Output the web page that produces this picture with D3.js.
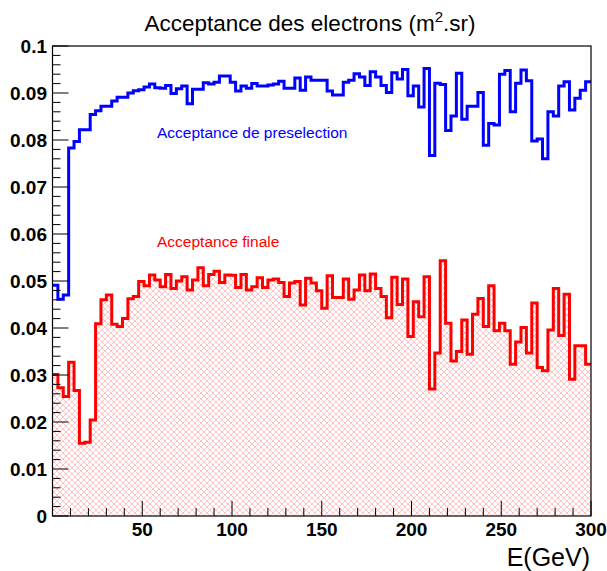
<!DOCTYPE html>
<html>
<head>
<meta charset="utf-8">
<script src="https://cdn.jsdelivr.net/npm/d3@7"></script>
<style>
  html, body { margin: 0; padding: 0; background: #fff; }
  svg { display: block; font-family: "Liberation Sans", Arial, sans-serif; }
</style>
</head>
<body>
<svg id="chart" width="607" height="571"></svg>
<script>
// Acceptance des electrons — 100 bins de 3 GeV entre 0 et 300
const binWidth = 3;
const binEdges = d3.range(0, 300, binWidth);

const preselection = [
  0.0491, 0.0461, 0.0470, 0.0783, 0.0797, 0.0822, 0.0822, 0.0854, 0.0862, 0.0872,
  0.0872, 0.0883, 0.0891, 0.0891, 0.0900, 0.0905, 0.0907, 0.0913, 0.0919, 0.0911,
  0.0910, 0.0916, 0.0899, 0.0909, 0.0915, 0.0877, 0.0908, 0.0908, 0.0922, 0.0919,
  0.0923, 0.0936, 0.0936, 0.0923, 0.0904, 0.0915, 0.0910, 0.0920, 0.0915, 0.0915,
  0.0917, 0.0919, 0.0925, 0.0910, 0.0910, 0.0932, 0.0906, 0.0934, 0.0927, 0.0927,
  0.0927, 0.0904, 0.0896, 0.0896, 0.0923, 0.0927, 0.0941, 0.0934, 0.0916, 0.0945,
  0.0934, 0.0916, 0.0901, 0.0943, 0.0930, 0.0950, 0.0894, 0.0915, 0.0870, 0.0952,
  0.0767, 0.0921, 0.0918, 0.0820, 0.0851, 0.0942, 0.0844, 0.0872, 0.0872, 0.0901,
  0.0789, 0.0835, 0.0832, 0.0940, 0.0948, 0.0860, 0.0921, 0.0949, 0.0926, 0.0798,
  0.0802, 0.0760, 0.0860, 0.0851, 0.0915, 0.0924, 0.0864, 0.0889, 0.0906, 0.0924
];

const finale = [
  0.0301, 0.0273, 0.0254, 0.0327, 0.0267, 0.0155, 0.0157, 0.0204, 0.0409, 0.0460,
  0.0470, 0.0408, 0.0403, 0.0420, 0.0462, 0.0467, 0.0499, 0.0490, 0.0513, 0.0502,
  0.0488, 0.0514, 0.0484, 0.0500, 0.0509, 0.0481, 0.0502, 0.0528, 0.0490, 0.0514,
  0.0521, 0.0497, 0.0513, 0.0512, 0.0486, 0.0514, 0.0481, 0.0488, 0.0507, 0.0486,
  0.0502, 0.0504, 0.0497, 0.0467, 0.0496, 0.0499, 0.0449, 0.0506, 0.0496, 0.0479,
  0.0442, 0.0511, 0.0465, 0.0465, 0.0504, 0.0461, 0.0481, 0.0513, 0.0479, 0.0515,
  0.0484, 0.0467, 0.0422, 0.0508, 0.0450, 0.0504, 0.0382, 0.0456, 0.0424, 0.0509,
  0.0270, 0.0347, 0.0543, 0.0410, 0.0330, 0.0350, 0.0417, 0.0344, 0.0429, 0.0463,
  0.0403, 0.0490, 0.0394, 0.0410, 0.0394, 0.0323, 0.0370, 0.0401, 0.0347, 0.0453,
  0.0316, 0.0309, 0.0396, 0.0484, 0.0384, 0.0472, 0.0291, 0.0362, 0.0362, 0.0323
];

const xTicks = [50, 100, 150, 200, 250, 300];
const yTicks = [0, 0.01, 0.02, 0.03, 0.04, 0.05, 0.06, 0.07, 0.08, 0.09, 0.1];
const yTickLabels = ["0", "0.01", "0.02", "0.03", "0.04", "0.05", "0.06", "0.07", "0.08", "0.09", "0.1"];

const titre = "Acceptance des electrons (m";
const labelPresel = "Acceptance de preselection";
const labelFinale = "Acceptance finale";
const xTitre = "E(GeV)";

const bleu = "#0000ff", rouge = "#ff0000";

const svg = d3.select("#chart");
const mLeft = 52.5, mRight = 591, mTop = 46, mBottom = 516;

const x = d3.scaleLinear().domain([0, 300]).range([mLeft, mRight]);
const y = d3.scaleLinear().domain([0, 0.1]).range([mBottom, mTop]);

// motif hachuré (style ROOT)
const defs = svg.append("defs");
const pat = defs.append("pattern")
    .attr("id", "hachures")
    .attr("patternUnits", "userSpaceOnUse")
    .attr("width", 6).attr("height", 6);
pat.append("path").attr("d", "M0,0L6,6M0,6L6,0M-1,1L1,-1M5,7L7,5M-1,5L1,7M5,-1L7,1")
    .attr("stroke", "#ffbcbc").attr("stroke-width", 0.9).attr("fill", "none");

function points(vals) {
    const pts = binEdges.map((e, i) => [e, vals[i]]);
    pts.push([300, vals[vals.length - 1]]);
    return pts;
}

const ligne = d3.line().curve(d3.curveStepAfter).x(d => x(d[0])).y(d => y(d[1]));
const aire = d3.area().curve(d3.curveStepAfter).x(d => x(d[0])).y0(y(0)).y1(d => y(d[1]));

const clip = defs.append("clipPath").attr("id", "cadre");
clip.append("rect").attr("x", mLeft).attr("y", mTop).attr("width", mRight - mLeft).attr("height", mBottom - mTop);

const g = svg.append("g").attr("clip-path", "url(#cadre)");

g.append("path").datum(points(finale))
    .attr("d", aire).attr("fill", "url(#hachures)");

g.append("path").datum(points(preselection))
    .attr("d", ligne).attr("fill", "none")
    .attr("stroke", bleu).attr("stroke-width", 3);

g.append("path").datum(points(finale))
    .attr("d", ligne).attr("fill", "none")
    .attr("stroke", rouge).attr("stroke-width", 3);

// cadre
svg.append("rect")
    .attr("x", mLeft).attr("y", mTop)
    .attr("width", mRight - mLeft).attr("height", mBottom - mTop)
    .attr("fill", "none").attr("stroke", "#000").attr("stroke-width", 1.2);

// axe X
const xMinor = d3.range(10, 300, 10).filter(v => v % 50 !== 0);
svg.append("g").selectAll("line").data(xMinor).join("line")
    .attr("x1", d => x(d)).attr("x2", d => x(d))
    .attr("y1", mBottom).attr("y2", mBottom - 8)
    .attr("stroke", "#000");
svg.append("g").selectAll("line").data(xTicks).join("line")
    .attr("x1", d => x(d)).attr("x2", d => x(d))
    .attr("y1", mBottom).attr("y2", mBottom - 15)
    .attr("stroke", "#000");
svg.append("g").selectAll("text").data(xTicks).join("text")
    .attr("x", d => x(d)).attr("y", 536)
    .attr("text-anchor", "middle")
    .attr("font-size", 19).attr("font-weight", "bold")
    .text(d => d);

// axe Y
const yMinor = d3.range(0.002, 0.1, 0.002).filter(v => Math.abs(v * 100 - Math.round(v * 100)) > 1e-6);
svg.append("g").selectAll("line").data(yMinor).join("line")
    .attr("x1", mLeft).attr("x2", mLeft + 8)
    .attr("y1", d => y(d)).attr("y2", d => y(d))
    .attr("stroke", "#000");
svg.append("g").selectAll("line").data(yTicks).join("line")
    .attr("x1", mLeft).attr("x2", mLeft + 16)
    .attr("y1", d => y(d)).attr("y2", d => y(d))
    .attr("stroke", "#000");
svg.append("g").selectAll("text").data(yTicks).join("text")
    .attr("x", 47).attr("y", d => y(d) + 7)
    .attr("text-anchor", "end")
    .attr("font-size", 19).attr("font-weight", "bold")
    .text((d, i) => yTickLabels[i]);

// titres
const t = svg.append("text")
    .attr("x", 310).attr("y", 31)
    .attr("text-anchor", "middle")
    .attr("font-size", 22.5);
t.append("tspan").text(titre);
t.append("tspan").attr("dy", -9).attr("font-size", 15).text("2");
t.append("tspan").attr("dy", 9).text(".sr)");

svg.append("text")
    .attr("x", 590).attr("y", 566)
    .attr("text-anchor", "end")
    .attr("font-size", 25)
    .text(xTitre);

svg.append("text")
    .attr("x", 157).attr("y", 138)
    .attr("font-size", 15.5).attr("fill", bleu)
    .text(labelPresel);

svg.append("text")
    .attr("x", 157).attr("y", 247)
    .attr("font-size", 15.5).attr("fill", rouge)
    .text(labelFinale);
</script>
</body>
</html>
